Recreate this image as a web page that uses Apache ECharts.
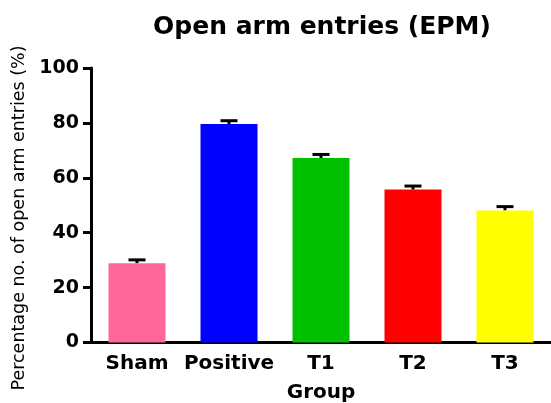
<!DOCTYPE html>
<html><head><meta charset="utf-8">
<script src="https://cdn.jsdelivr.net/npm/echarts@6/dist/echarts.min.js"></script>
<style>html,body{margin:0;padding:0;background:#fff}#c{width:551px;height:403px}</style>
</head><body><div id="c"></div>
<script>
const categories = ['Sham', 'Positive', 'T1', 'T2', 'T3'];
const values = [28.9, 79.6, 67.2, 55.7, 48.1];
const errorTop = [30.1, 80.8, 68.5, 57.0, 49.5];
const barColors = ['#FF6699', '#0000FF', '#00C000', '#FF0000', '#FFFF00'];
const yTicks = [0, 20, 40, 60, 80, 100];
const titleText = 'Open arm entries (EPM)';
const yName = 'Percentage no. of open arm entries (%)';
const xName = 'Group';

const chart = echarts.init(document.getElementById('c'), null, {renderer: 'canvas'});
const font = '"DejaVu Sans", sans-serif';
chart.setOption({
  animation: false,
  backgroundColor: '#fff',
  title: {
    text: titleText,
    left: 317, top: 10, textAlign: 'center',
    textStyle: {fontFamily: font, fontWeight: 'bold', fontSize: 25, color: '#000'}
  },
  graphic: [{
    type: 'text', x: 19, y: 218, rotation: Math.PI / 2,
    style: {text: yName, fontFamily: font, fontSize: 17.5, fill: '#000', textAlign: 'center', textVerticalAlign: 'middle'}
  }],
  grid: {left: 91, right: 0, top: 68, bottom: 60.5, containLabel: false, outerBoundsMode: 'none'},
  xAxis: {
    type: 'category', data: categories,
    name: xName, nameLocation: 'middle', nameGap: 40,
    nameTextStyle: {fontFamily: font, fontWeight: 'bold', fontSize: 20, color: '#000'},
    axisLine: {lineStyle: {color: '#000', width: 3}},
    axisTick: {alignWithLabel: true, length: 7, lineStyle: {color: '#000', width: 3}},
    axisLabel: {interval: 0, fontFamily: font, fontWeight: 'bold', fontSize: 20, color: '#000', margin: 11}
  },
  yAxis: {
    type: 'value', min: yTicks[0], max: yTicks[yTicks.length - 1], interval: 20,
    splitLine: {show: false},
    axisLine: {show: true, lineStyle: {color: '#000', width: 3}},
    axisTick: {show: true, length: 8, lineStyle: {color: '#000', width: 3}},
    axisLabel: {fontFamily: font, fontWeight: 'bold', fontSize: 19, color: '#000', margin: 12}
  },
  series: [
    {
      type: 'bar', barWidth: 57,
      data: values.map((v, i) => ({value: v, itemStyle: {color: barColors[i]}})),
      z: 2
    },
    {
      type: 'custom', z: 1,
      data: values.map((v, i) => [i, v, errorTop[i]]),
      renderItem: function (params, api) {
        const x = api.coord([api.value(0), api.value(1)]);
        const top = api.coord([api.value(0), api.value(2)]);
        const hw = 8.5;
        return {
          type: 'group',
          children: [
            {type: 'line', shape: {x1: x[0], y1: x[1], x2: top[0], y2: top[1]}, style: {stroke: '#000', lineWidth: 3}},
            {type: 'line', shape: {x1: top[0] - hw, y1: top[1], x2: top[0] + hw, y2: top[1]}, style: {stroke: '#000', lineWidth: 3}}
          ]
        };
      }
    }
  ]
});
</script></body></html>
